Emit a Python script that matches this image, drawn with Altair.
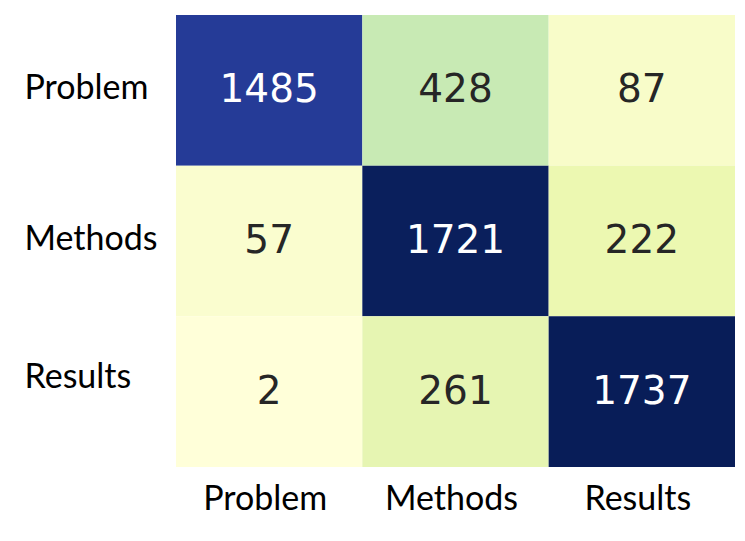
import altair as alt
import pandas as pd

rows = ["Problem", "Methods", "Results"]
cols = ["Problem", "Methods", "Results"]
values = [
    [1485, 428, 87],
    [57, 1721, 222],
    [2, 261, 1737],
]
# matplotlib YlGnBu anchor colours
ylgnbu = ["#ffffd9", "#edf8b1", "#c7e9b4", "#7fcdbb", "#41b6c4",
          "#1d91c0", "#225ea8", "#253494", "#081d58"]
dark_text = "#262626"

records = []
for i, r in enumerate(rows):
    for j, c in enumerate(cols):
        records.append({"row": r, "col": c, "value": values[i][j]})
df = pd.DataFrame(records)

vmin = min(min(v) for v in values)
vmax = max(max(v) for v in values)
n = len(ylgnbu) - 1
stops = [vmin + k * (vmax - vmin) / n for k in range(n + 1)]

x = alt.X("col:N", sort=cols, title=None,
          scale=alt.Scale(paddingInner=0, paddingOuter=0),
          axis=alt.Axis(orient="bottom", domain=False, ticks=False, tickSize=0,
                        labelAngle=0, labelFont="Lato", labelFontSize=34,
                        labelColor="black", labelPadding=15, labelBaseline="top",
                        labelOffset=-4))
y = alt.Y("row:N", sort=rows, title=None,
          scale=alt.Scale(paddingInner=0, paddingOuter=0),
          axis=alt.Axis(orient="left", domain=False, ticks=False, tickSize=0,
                        labelFont="Lato", labelFontSize=34, labelColor="black",
                        labelAlign="left", labelPadding=152, labelBaseline="middle",
                        labelOffset=alt.expr("datum.value == 'Results' ? -14 : -1")))

base = alt.Chart(df).encode(x=x, y=y)

rect = base.mark_rect(strokeWidth=0).encode(
    color=alt.Color("value:Q", scale=alt.Scale(domain=stops, range=ylgnbu,
                                               interpolate="rgb"), legend=None)
)

text = base.mark_text(font="DejaVu Sans", fontSize=39, baseline="middle",
                      align="center").encode(
    text=alt.Text("value:Q", format="d"),
    color=alt.condition(alt.datum.value > 1000, alt.value("white"), alt.value(dark_text)),
)

chart = (rect + text).properties(
    width=559, height=452,
    autosize=alt.AutoSizeParams(type="none"),
    padding={"left": 168, "top": 7, "right": 2, "bottom": 66},
).configure_view(stroke=None)

chart.save("out.html", embed_options={"renderer": "svg", "actions": False})
